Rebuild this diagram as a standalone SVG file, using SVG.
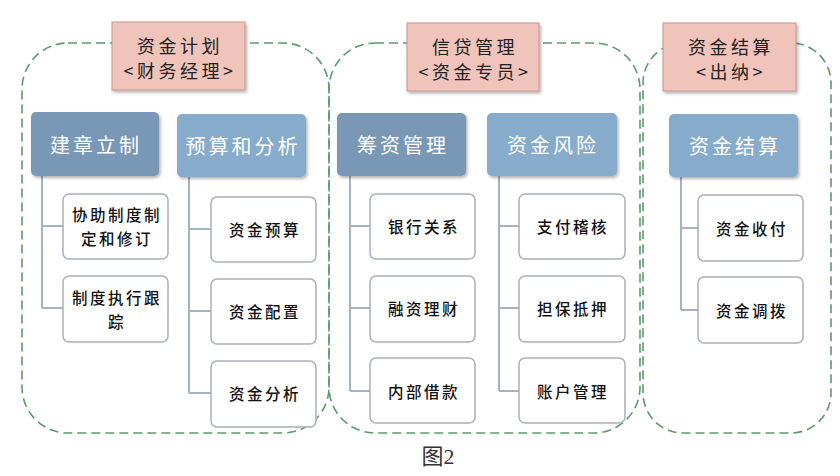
<svg xmlns="http://www.w3.org/2000/svg" width="840" height="476" viewBox="0 0 840 476">
<defs>
<filter id="sh" x="-10%" y="-10%" width="130%" height="130%">
<feDropShadow dx="1.5" dy="2" stdDeviation="1.5" flood-color="#000" flood-opacity="0.3"/>
</filter>
<style>
.cont{fill:none;stroke:#5b9a6c;stroke-width:1.6;stroke-dasharray:9 5}
.pink{fill:#f1c4bb;stroke:#c4958c;stroke-width:1;filter:url(#sh)}
.hd1{fill:#7898b6;filter:url(#sh)}
.hd2{fill:#87abca;filter:url(#sh)}
.box{fill:#fff;stroke:#a9b0b6;stroke-width:1.5}
.ln{fill:none;stroke:#a4b3c0;stroke-width:2}
text{font-family:"Noto Sans CJK SC","Noto Sans",sans-serif;text-anchor:middle;dominant-baseline:central}
.pt{font-size:18px;fill:#222;letter-spacing:3.5px}
.ht{font-size:20px;fill:#fff;letter-spacing:3px}
.ct{font-size:15.5px;fill:#111;letter-spacing:2.5px;font-weight:500}
.cap{font-family:"Liberation Serif","Noto Sans CJK SC",serif;font-size:22px;fill:#333}
</style>
</defs>
<rect width="840" height="476" fill="#fff"/>
<g id="containers">
<rect class="cont" x="22" y="43" width="307" height="390" rx="46"/>
<rect class="cont" x="329" y="43" width="311" height="390" rx="46"/>
<rect class="cont" x="643" y="43" width="188" height="390" rx="40"/>
</g>
<g id="connectors">
<path class="ln" d="M42 176V308M42 226H63M42 308H63"/>
<path class="ln" d="M189 177V393M189 229H211M189 311H211M189 393H211"/>
<path class="ln" d="M350 176V391M350 226H370M350 308H370M350 391H370"/>
<path class="ln" d="M499 176V391M499 226H519M499 308H519M499 391H519"/>
<path class="ln" d="M681 177V310M681 228H698M681 310H698"/>
</g>
<g id="role1"><rect class="pink" x="112" y="22" width="133" height="68"/><text class="pt" x="180" y="45">资金计划</text><text class="pt" x="180" y="70">&lt;财务经理&gt;</text></g>
<g id="role2"><rect class="pink" x="407" y="23" width="132" height="68"/><text class="pt" x="475" y="46">信贷管理</text><text class="pt" x="475" y="71">&lt;资金专员&gt;</text></g>
<g id="role3"><rect class="pink" x="663" y="23" width="133" height="68"/><text class="pt" x="731" y="46">资金结算</text><text class="pt" x="731" y="71">&lt;出纳&gt;</text></g>
<g id="h1"><rect class="hd1" x="31" y="112" width="128" height="64" rx="5"/><text class="ht" x="96" y="144">建章立制</text></g>
<g id="h2"><rect class="hd2" x="177" y="114" width="129" height="63" rx="5"/><text class="ht" x="243" y="145">预算和分析</text></g>
<g id="h3"><rect class="hd1" x="337" y="113" width="129" height="63" rx="5"/><text class="ht" x="403" y="144">筹资管理</text></g>
<g id="h4"><rect class="hd2" x="487" y="113" width="130" height="63" rx="5"/><text class="ht" x="553" y="144">资金风险</text></g>
<g id="h5"><rect class="hd2" x="669" y="114" width="129" height="63" rx="5"/><text class="ht" x="735" y="145">资金结算</text></g>
<g id="c1a"><rect class="box" x="63" y="194" width="105" height="65" rx="6"/><text class="ct" x="117" y="214">协助制度制</text><text class="ct" x="117" y="238">定和修订</text></g>
<g id="c1b"><rect class="box" x="63" y="276" width="105" height="66" rx="6"/><text class="ct" x="117" y="297">制度执行跟</text><text class="ct" x="117" y="321">踪</text></g>
<g id="c2a"><rect class="box" x="211" y="197" width="105" height="65" rx="6"/><text class="ct" x="265" y="229">资金预算</text></g>
<g id="c2b"><rect class="box" x="211" y="279" width="105" height="65" rx="6"/><text class="ct" x="265" y="311">资金配置</text></g>
<g id="c2c"><rect class="box" x="211" y="361" width="105" height="66" rx="6"/><text class="ct" x="265" y="393">资金分析</text></g>
<g id="c3a"><rect class="box" x="370" y="194" width="105" height="65" rx="6"/><text class="ct" x="424" y="226">银行关系</text></g>
<g id="c3b"><rect class="box" x="370" y="276" width="105" height="66" rx="6"/><text class="ct" x="424" y="308">融资理财</text></g>
<g id="c3c"><rect class="box" x="370" y="358" width="105" height="65" rx="6"/><text class="ct" x="424" y="391">内部借款</text></g>
<g id="c4a"><rect class="box" x="519" y="194" width="106" height="65" rx="6"/><text class="ct" x="573" y="226">支付稽核</text></g>
<g id="c4b"><rect class="box" x="519" y="276" width="106" height="66" rx="6"/><text class="ct" x="573" y="308">担保抵押</text></g>
<g id="c4c"><rect class="box" x="519" y="358" width="106" height="65" rx="6"/><text class="ct" x="573" y="391">账户管理</text></g>
<g id="c5a"><rect class="box" x="698" y="195" width="105" height="66" rx="6"/><text class="ct" x="752" y="228">资金收付</text></g>
<g id="c5b"><rect class="box" x="698" y="277" width="105" height="66" rx="6"/><text class="ct" x="752" y="310">资金调拨</text></g>
<text class="cap" x="438" y="456">图2</text>
</svg>
